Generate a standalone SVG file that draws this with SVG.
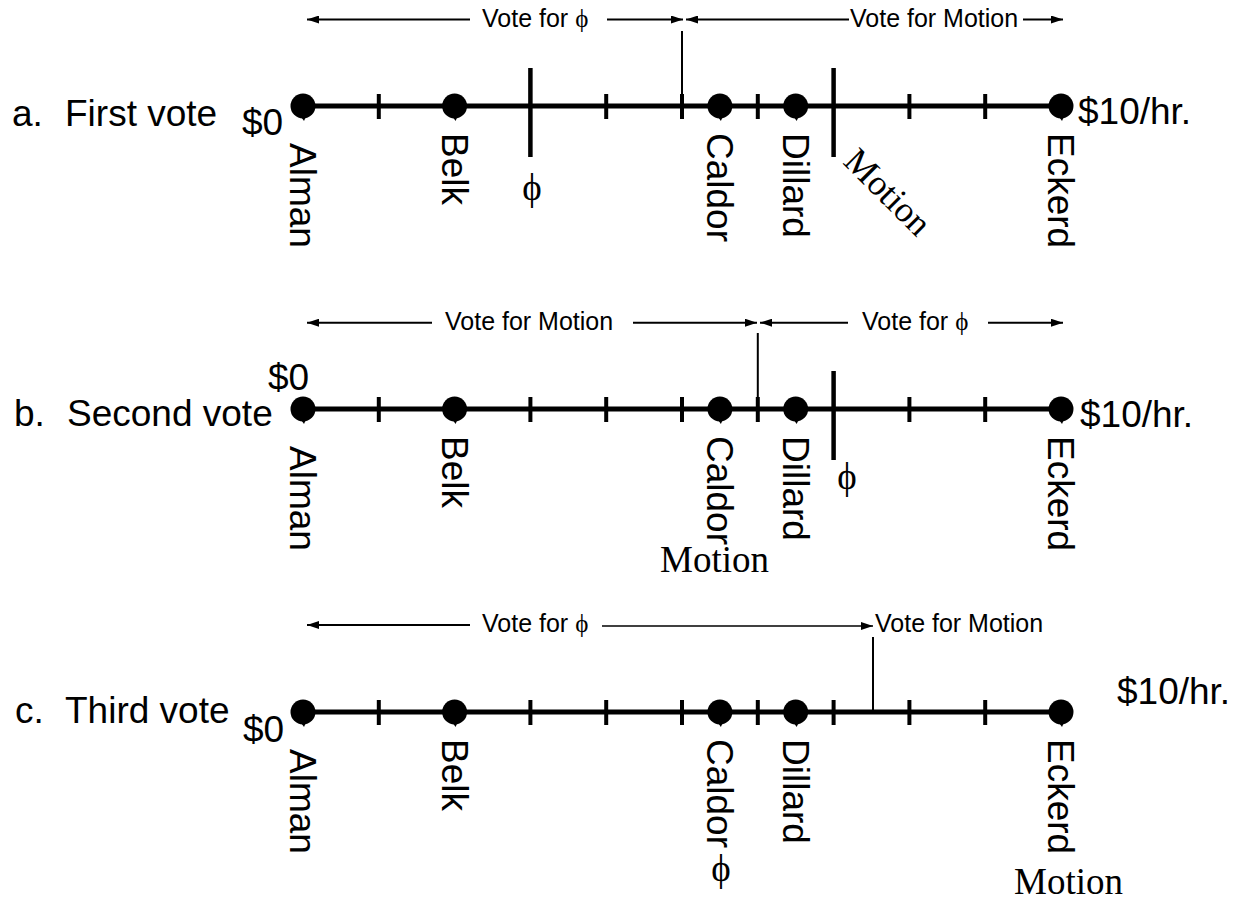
<svg xmlns="http://www.w3.org/2000/svg" xmlns:xlink="http://www.w3.org/1999/xlink" width="1257" height="903" viewBox="0 0 1257 903">
<style>
.axis{stroke:#000;stroke-width:5}
.tick{stroke:#000;stroke-width:4}
.long{stroke:#000;stroke-width:4.5}
.div{stroke:#000;stroke-width:2}
.arr{stroke:#000;stroke-width:2;fill:none}
.thin{stroke:#000;stroke-width:1.5;fill:none}
text{fill:#000}
.sans{font-family:"Liberation Sans",Arial,sans-serif}
.big{font-size:37px}
.small{font-size:25px}
.serif{font-family:"Liberation Serif","DejaVu Serif",serif}
</style>
<defs>
<marker id="ah" viewBox="0 0 12 8" refX="12" refY="4" markerWidth="12" markerHeight="8" markerUnits="userSpaceOnUse" orient="auto"><path d="M0,0 L12,4 L0,8 Z" fill="#000"/></marker>
<g id="dot"><circle r="12.5" fill="#000"/><path d="M-4,8 L4,8 L1,15 Z" fill="#000"/></g>
</defs>
<rect width="1257" height="903" fill="#fff"/>

<!-- Panel a -->
<g id="panel-a">
<text class="sans big" x="12" y="126">a.<tspan x="65">First vote</tspan></text>
<line class="axis" x1="303" y1="106" x2="1061" y2="106"/>
<g id="a-ticks">
<line class="tick" x1="378.8" y1="94" x2="378.8" y2="119"/>
<line class="tick" x1="606.2" y1="94" x2="606.2" y2="119"/>
<line class="tick" x1="682" y1="94" x2="682" y2="119"/>
<line class="tick" x1="757.8" y1="94" x2="757.8" y2="119"/>
<line class="tick" x1="909.4" y1="94" x2="909.4" y2="119"/>
<line class="tick" x1="985.2" y1="94" x2="985.2" y2="119"/>
</g>
<g id="a-phi"><line class="long" x1="530.4" y1="68" x2="530.4" y2="157"/><text class="serif big" x="532" y="200" text-anchor="middle">ϕ</text></g>
<g id="a-motion"><line class="long" x1="833.6" y1="68" x2="833.6" y2="157"/><text class="serif" font-size="36" transform="translate(842,163) rotate(45)">Motion</text></g>
<text class="sans big" x="242" y="135">$0</text>
<text class="sans big" x="1078" y="124">$10/hr.</text>
<g id="a-alman"><use xlink:href="#dot" x="303" y="106"/><text class="sans big" transform="translate(290,143) rotate(90)">Alman</text></g>
<g id="a-belk"><use xlink:href="#dot" x="454.6" y="106"/><text class="sans big" transform="translate(441.6,133) rotate(90)">Belk</text></g>
<g id="a-caldor"><use xlink:href="#dot" x="719.9" y="106"/><text class="sans big" transform="translate(707,133) rotate(90)">Caldor</text></g>
<g id="a-dillard"><use xlink:href="#dot" x="795.7" y="106"/><text class="sans big" transform="translate(783,133) rotate(90)">Dillard</text></g>
<g id="a-eckerd"><use xlink:href="#dot" x="1061" y="106"/><text class="sans big" transform="translate(1048,133) rotate(90)">Eckerd</text></g>
<text class="sans small" x="482" y="27">Vote for <tspan class="serif">ϕ</tspan></text>
<text class="sans small" x="850" y="27">Vote for Motion</text>
</g>

<!-- Panel b -->
<g id="panel-b">
<text class="sans big" x="14" y="426">b.<tspan x="67">Second vote</tspan></text>
<line class="axis" x1="303" y1="409" x2="1061" y2="409"/>
<g id="b-ticks">
<line class="tick" x1="378.8" y1="397" x2="378.8" y2="422"/>
<line class="tick" x1="530.4" y1="397" x2="530.4" y2="422"/>
<line class="tick" x1="606.2" y1="397" x2="606.2" y2="422"/>
<line class="tick" x1="682" y1="397" x2="682" y2="422"/>
<line class="tick" x1="757.8" y1="397" x2="757.8" y2="422"/>
<line class="tick" x1="909.4" y1="397" x2="909.4" y2="422"/>
<line class="tick" x1="985.2" y1="397" x2="985.2" y2="422"/>
</g>
<g id="b-phi"><line class="long" x1="833.6" y1="371" x2="833.6" y2="460"/><text class="serif big" x="847" y="489" text-anchor="middle">ϕ</text></g>
<text class="sans big" x="268" y="390">$0</text>
<text class="sans big" x="1080" y="427">$10/hr.</text>
<g id="b-alman"><use xlink:href="#dot" x="303" y="409"/><text class="sans big" transform="translate(290,446) rotate(90)">Alman</text></g>
<g id="b-belk"><use xlink:href="#dot" x="454.6" y="409"/><text class="sans big" transform="translate(441.6,436) rotate(90)">Belk</text></g>
<g id="b-caldor"><use xlink:href="#dot" x="719.9" y="409"/><text class="sans big" transform="translate(707,436) rotate(90)">Caldor</text><text class="serif big" x="660" y="572">Motion</text></g>
<g id="b-dillard"><use xlink:href="#dot" x="795.7" y="409"/><text class="sans big" transform="translate(783,436) rotate(90)">Dillard</text></g>
<g id="b-eckerd"><use xlink:href="#dot" x="1061" y="409"/><text class="sans big" transform="translate(1048,436) rotate(90)">Eckerd</text></g>
<text class="sans small" x="445" y="330">Vote for Motion</text>
<text class="sans small" x="862" y="330">Vote for <tspan class="serif">ϕ</tspan></text>
</g>

<!-- Panel c -->
<g id="panel-c">
<text class="sans big" x="15" y="723">c.<tspan x="65">Third vote</tspan></text>
<line class="axis" x1="303" y1="712" x2="1061" y2="712"/>
<g id="c-ticks">
<line class="tick" x1="378.8" y1="700" x2="378.8" y2="725"/>
<line class="tick" x1="530.4" y1="700" x2="530.4" y2="725"/>
<line class="tick" x1="606.2" y1="700" x2="606.2" y2="725"/>
<line class="tick" x1="682" y1="700" x2="682" y2="725"/>
<line class="tick" x1="757.8" y1="700" x2="757.8" y2="725"/>
<line class="tick" x1="833.6" y1="700" x2="833.6" y2="725"/>
<line class="tick" x1="909.4" y1="700" x2="909.4" y2="725"/>
<line class="tick" x1="985.2" y1="700" x2="985.2" y2="725"/>
</g>
<text class="sans big" x="243" y="742">$0</text>
<text class="sans big" x="1117" y="704">$10/hr.</text>
<g id="c-alman"><use xlink:href="#dot" x="303" y="712"/><text class="sans big" transform="translate(290,749) rotate(90)">Alman</text></g>
<g id="c-belk"><use xlink:href="#dot" x="454.6" y="712"/><text class="sans big" transform="translate(441.6,739) rotate(90)">Belk</text></g>
<g id="c-caldor"><use xlink:href="#dot" x="719.9" y="712"/><text class="sans big" transform="translate(707,739) rotate(90)">Caldor</text><text class="serif big" x="721" y="881" text-anchor="middle">ϕ</text></g>
<g id="c-dillard"><use xlink:href="#dot" x="795.7" y="712"/><text class="sans big" transform="translate(783,739) rotate(90)">Dillard</text></g>
<g id="c-eckerd"><use xlink:href="#dot" x="1061" y="712"/><text class="sans big" transform="translate(1048,739) rotate(90)">Eckerd</text><text class="serif big" x="1014" y="894">Motion</text></g>
<text class="sans small" x="482" y="632">Vote for <tspan class="serif">ϕ</tspan></text>
<text class="sans small" x="875" y="632">Vote for Motion</text>
</g>

<!-- Connectors -->
<g id="connectors">
<line class="arr" x1="470" y1="19.5" x2="307" y2="19.5" marker-end="url(#ah)"/>
<line class="arr" x1="607" y1="19.5" x2="683" y2="19.5" marker-end="url(#ah)"/>
<line class="arr" x1="849" y1="19.5" x2="686" y2="19.5" marker-end="url(#ah)"/>
<line class="arr" x1="1023" y1="19.5" x2="1063" y2="19.5" marker-end="url(#ah)"/>
<line class="div" x1="682" y1="31" x2="682" y2="106"/>
<line class="arr" x1="432" y1="322.7" x2="307" y2="322.7" marker-end="url(#ah)"/>
<line class="arr" x1="633" y1="322.7" x2="757" y2="322.7" marker-end="url(#ah)"/>
<line class="arr" x1="848" y1="322.7" x2="760" y2="322.7" marker-end="url(#ah)"/>
<line class="arr" x1="988" y1="322.7" x2="1063" y2="322.7" marker-end="url(#ah)"/>
<line class="div" x1="757.8" y1="333" x2="757.8" y2="409"/>
<line class="arr" x1="470" y1="625" x2="307" y2="625" marker-end="url(#ah)"/>
<line class="thin" x1="602" y1="626" x2="873" y2="626" marker-end="url(#ah)"/>
<line class="div" x1="873" y1="637" x2="873" y2="712"/>
</g>
</svg>
